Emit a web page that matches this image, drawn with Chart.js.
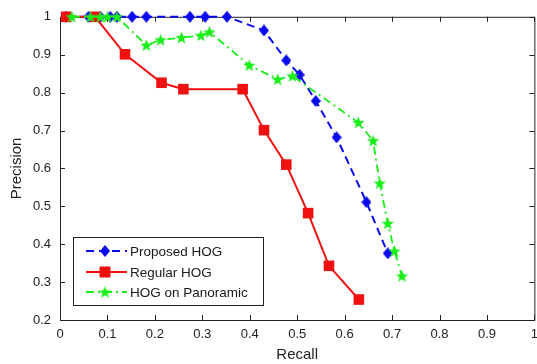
<!DOCTYPE html>
<html>
<head>
<meta charset="utf-8">
<script src="https://cdn.jsdelivr.net/npm/chart.js@4/dist/chart.umd.min.js"></script>
<style>
  html, body { margin: 0; padding: 0; background: #fff; overflow: hidden; }
  #wrap { width: 545px; height: 364px; }
</style>
</head>
<body>
<div id="wrap"><canvas id="prChart"></canvas></div>
<script>
// datos (recall, precision)
var proposedRecall = [0.013, 0.06, 0.085, 0.106, 0.12, 0.152, 0.182, 0.274, 0.306, 0.352, 0.43, 0.477, 0.505, 0.539, 0.583, 0.646, 0.691];
var proposedPrec   = [1, 1, 1, 1, 1, 1, 1, 1, 1, 1, 0.964, 0.885, 0.847, 0.778, 0.682, 0.511, 0.376];

var regularRecall = [0.013, 0.074, 0.137, 0.214, 0.26, 0.385, 0.43, 0.477, 0.523, 0.567, 0.63];
var regularPrec   = [1, 1, 0.901, 0.826, 0.809, 0.809, 0.701, 0.61, 0.482, 0.343, 0.254];

var panoRecall = [0.025, 0.064, 0.085, 0.1, 0.12, 0.182, 0.212, 0.256, 0.297, 0.315, 0.399, 0.459, 0.49, 0.629, 0.66, 0.674, 0.691, 0.705, 0.721];
var panoPrec   = [1, 1, 1, 1, 1, 0.925, 0.939, 0.945, 0.951, 0.96, 0.872, 0.835, 0.844, 0.721, 0.673, 0.561, 0.455, 0.382, 0.316];

var xTicks = [0, 0.1, 0.2, 0.3, 0.4, 0.5, 0.6, 0.7, 0.8, 0.9, 1];
var yTicks = [0.2, 0.3, 0.4, 0.5, 0.6, 0.7, 0.8, 0.9, 1];

var seriesNames = ['Proposed HOG', 'Regular HOG', 'HOG on Panoramic'];

function toPoints(xs, ys) {
    return xs.map(function (x, i) { return { x: x, y: ys[i] }; });
}

// estrella rellena (pentagrama de matlab)
function makeStar(color, size) {
    var c = document.createElement('canvas');
    c.width = size; c.height = size;
    var g = c.getContext('2d');
    var cx = size / 2, cy = size / 2 + 0.5, ro = size / 2, ri = ro * 0.42;
    g.beginPath();
    for (var i = 0; i < 10; i++) {
        var r = i % 2 === 0 ? ro : ri;
        var a = -Math.PI / 2 + i * Math.PI / 5;
        g.lineTo(cx + r * Math.cos(a), cy + r * Math.sin(a));
    }
    g.closePath();
    g.fillStyle = color;
    g.fill();
    return c;
}

// rombo un poco mas alto que ancho
function makeDiamond(color, w, h) {
    var c = document.createElement('canvas');
    c.width = w; c.height = h;
    var g = c.getContext('2d');
    g.beginPath();
    g.moveTo(w / 2, 0); g.lineTo(w, h / 2); g.lineTo(w / 2, h); g.lineTo(0, h / 2);
    g.closePath();
    g.fillStyle = color;
    g.fill();
    return c;
}

var blue = '#0a0aee';
var red = '#f01010';
var green = '#18ee18';
var star = makeStar(green, 13);
var diamond = makeDiamond(blue, 10, 12);

var FONT = 'Liberation Sans, Arial, sans-serif';

// marco y marcas hacia dentro, estilo matlab
var framePlugin = {
    id: 'frame',
    beforeDatasetsDraw: function (chart) {
        var c = chart.ctx, a = chart.chartArea;
        var xs = chart.scales.x, ys = chart.scales.y;
        c.save();
        c.strokeStyle = '#222';
        c.lineWidth = 1;
        c.beginPath();
        c.rect(a.left + 0.5, a.top + 0.5, a.right - a.left, a.bottom - a.top);
        c.stroke();
        c.beginPath();
        xTicks.forEach(function (v) {
            var px = Math.round(xs.getPixelForValue(v)) + 0.5;
            c.moveTo(px, a.bottom); c.lineTo(px, a.bottom - 5);
            c.moveTo(px, a.top); c.lineTo(px, a.top + 5);
        });
        yTicks.forEach(function (v) {
            var py = Math.round(ys.getPixelForValue(v)) + 0.5;
            c.moveTo(a.left, py); c.lineTo(a.left + 5, py);
            c.moveTo(a.right, py); c.lineTo(a.right - 5, py);
        });
        c.stroke();
        c.restore();
    }
};

// leyenda dentro del area, abajo a la izquierda
var legendPlugin = {
    id: 'boxLegend',
    afterDatasetsDraw: function (chart) {
        var c = chart.ctx;
        var bx = 73, by = 237, bw = 190, bh = 68;
        c.save();
        c.fillStyle = '#fff';
        c.fillRect(bx, by, bw, bh);
        c.strokeStyle = '#222';
        c.lineWidth = 1;
        c.strokeRect(bx + 0.5, by + 0.5, bw, bh);
        var rows = [251, 272, 292];
        chart.data.datasets.forEach(function (ds, i) {
            var y = rows[i];
            c.strokeStyle = ds.borderColor;
            c.lineWidth = ds.borderWidth;
            c.setLineDash(ds.borderDash || []);
            c.beginPath();
            c.moveTo(86, y); c.lineTo(127, y);
            c.stroke();
            c.setLineDash([]);
            c.fillStyle = ds.backgroundColor;
            Chart.helpers.drawPoint(c, {
                pointStyle: ds.pointStyle,
                radius: ds.pointRadius,
                borderWidth: 0,
                rotation: 0
            }, 105, y);
            if (ds.pointStyle === 'rect') c.fill();
            c.fillStyle = '#1a1a1a';
            c.font = '13.5px ' + FONT;
            c.textBaseline = 'middle';
            c.textAlign = 'left';
            c.fillText(ds.label, 130, y + 1);
        });
        c.restore();
    }
};

var prChart = new Chart(document.getElementById('prChart').getContext('2d'), {
    type: 'line',
    data: {
        datasets: [{
            label: seriesNames[0],
            data: toPoints(proposedRecall, proposedPrec),
            borderColor: blue,
            backgroundColor: blue,
            borderWidth: 2,
            borderDash: [8, 5],
            pointStyle: diamond,
            pointRadius: 6,
            order: 2
        }, {
            label: seriesNames[1],
            data: toPoints(regularRecall, regularPrec),
            borderColor: red,
            backgroundColor: red,
            borderWidth: 2,
            pointStyle: 'rect',
            pointRadius: 7.5,
            pointBorderWidth: 0,
            order: 1
        }, {
            label: seriesNames[2],
            data: toPoints(panoRecall, panoPrec),
            borderColor: green,
            backgroundColor: green,
            borderWidth: 1.8,
            borderDash: [8, 4, 2, 4],
            pointStyle: star,
            pointRadius: 6,
            order: 0
        }]
    },
    options: {
        responsive: true,
        maintainAspectRatio: false,
        animation: false,
        layout: { padding: { left: 0, right: 7, top: 16, bottom: 0 } },
        elements: { line: { tension: 0, fill: false } },
        datasets: { line: { clip: false } },
        plugins: { legend: { display: false }, tooltip: { enabled: false } },
        scales: {
            x: {
                type: 'linear',
                min: 0, max: 1,
                afterFit: function (s) { s.height = 44; },
                afterBuildTicks: function (s) { s.ticks = xTicks.map(function (v) { return { value: v }; }); },
                grid: { display: false, drawTicks: false },
                border: { display: false },
                ticks: {
                    padding: 7,
                    color: '#222',
                    font: { family: FONT, size: 13 },
                    maxRotation: 0,
                    autoSkip: false,
                    callback: function (v) { return String(+v.toFixed(1)); }
                },
                title: {
                    display: true,
                    text: 'Recall',
                    color: '#222',
                    font: { family: FONT, size: 15 },
                    padding: { top: 0, bottom: 0 }
                }
            },
            y: {
                type: 'linear',
                min: 0.2, max: 1,
                afterFit: function (s) { s.width = 60; },
                afterBuildTicks: function (s) { s.ticks = yTicks.map(function (v) { return { value: v }; }); },
                grid: { display: false, drawTicks: false },
                border: { display: false },
                ticks: {
                    padding: 9,
                    color: '#222',
                    font: { family: FONT, size: 13 },
                    autoSkip: false,
                    callback: function (v) { return String(+v.toFixed(1)); }
                },
                title: {
                    display: true,
                    text: 'Precision',
                    color: '#222',
                    font: { family: FONT, size: 15 },
                    padding: { top: 8, bottom: 0 }
                }
            }
        }
    },
    plugins: [framePlugin, legendPlugin]
});
</script>
</body>
</html>
